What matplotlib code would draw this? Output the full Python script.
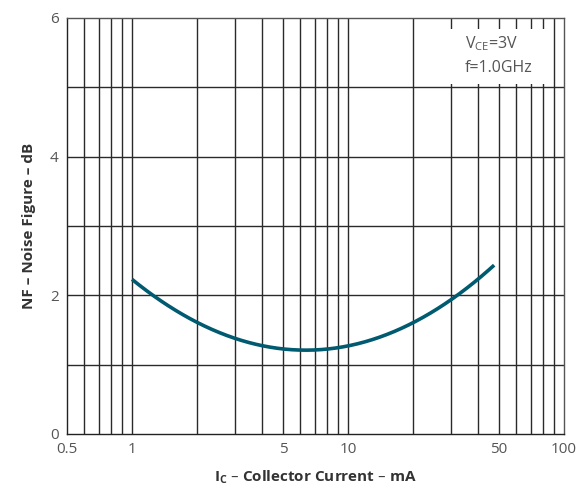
import numpy as np
import matplotlib.pyplot as plt
from matplotlib.patches import Rectangle
from matplotlib.ticker import FixedLocator, NullFormatter

plt.rcParams['font.family'] = ['Open Sans', 'DejaVu Sans']

# noise figure vs collector current (VCE = 3 V, f = 1.0 GHz)
ic_ma = [1.0, 2.0, 3.0, 4.0, 6.0, 9.0, 20.0, 29.0, 40.0, 47.5]
nf_db = [2.22, 1.645, 1.37, 1.255, 1.20, 1.255, 1.60, 1.93, 2.21, 2.44]

x_ticks = [0.5, 1, 5, 10, 50, 100]
x_ticklabels = ["0.5", "1", "5", "10", "50", "100"]
x_grid = [0.6, 0.7, 0.8, 0.9, 1, 2, 3, 4, 5, 6, 7, 8, 9, 10,
          20, 30, 40, 50, 60, 70, 80, 90]
y_ticks = [0, 2, 4, 6]
y_grid = [1, 2, 3, 4, 5]

fig = plt.figure(figsize=(5.84, 4.88), dpi=100)
ax = fig.add_axes([0.1147, 0.1107, 0.851, 0.8525])

ax.set_xscale("log")
ax.set_xlim(0.5, 100)
ax.set_ylim(0, 6)

for gx in x_grid:
    ax.axvline(gx, color="#2a2a2a", lw=1.0, zorder=1)
for gy in y_grid:
    ax.axhline(gy, color="#2a2a2a", lw=1.0, zorder=1)

# smooth curve through the read-off points (cubic in log current)
lx = np.log10(ic_ma)
coef = np.polyfit(lx, nf_db, 3)
xs = np.logspace(lx[0], lx[-1], 200)
ax.plot(xs, np.polyval(coef, np.log10(xs)), color="#005a70", lw=2.6,
        solid_capstyle="butt", zorder=3)

ax.xaxis.set_major_locator(FixedLocator(x_ticks))
ax.xaxis.set_minor_locator(FixedLocator([]))
ax.xaxis.set_minor_formatter(NullFormatter())
ax.set_xticks(x_ticks)
ax.set_xticklabels(x_ticklabels)
ax.set_yticks(y_ticks)
ax.tick_params(length=0, labelsize=11, labelcolor="#555555", pad=6)

for side in ax.spines.values():
    side.set_color("#555555")
    side.set_linewidth(1.0)
ax.spines["left"].set_color("#222222")
ax.spines["bottom"].set_color("#222222")

ax.set_xlabel("I$_\\mathregular{C}$ – Collector Current – mA", fontsize=11,
              fontweight="bold", color="#333333", labelpad=8)
ax.set_ylabel("NF – Noise Figure – dB", fontsize=11,
              fontweight="bold", color="#333333", labelpad=10)

# white panel for the test conditions
ax.add_patch(Rectangle((0.761, 0.841), 0.207, 0.133, transform=ax.transAxes,
                       facecolor="white", edgecolor="none", zorder=4))
ax.text(0.801, 0.938, "V$_\\mathregular{CE}$=3V", transform=ax.transAxes,
        ha="left", va="center", fontsize=11.5, color="#555555", zorder=5)
ax.text(0.801, 0.880, "f=1.0GHz", transform=ax.transAxes,
        ha="left", va="center", fontsize=11.5, color="#555555", zorder=5)

fig.savefig("out.png", dpi=100)
